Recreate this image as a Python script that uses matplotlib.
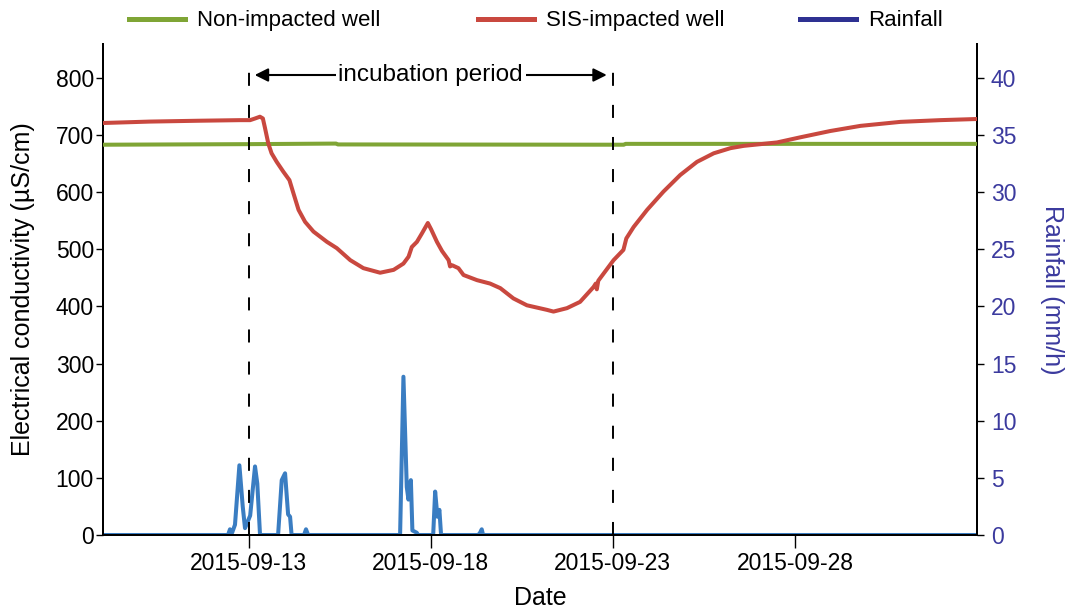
import numpy as np
import matplotlib
matplotlib.use("Agg")
import matplotlib.pyplot as plt
import matplotlib.dates as mdates
from matplotlib.lines import Line2D

plt.rcParams['font.family'] = ['Liberation Sans', 'DejaVu Sans']

# ---- data -------------------------------------------------------------
START = np.datetime64('2015-09-09T00:00')

# SIS-impacted well conductivity: (days since start, µS/cm)
sis_days = [0.00, 1.29, 2.66, 3.76, 4.04, 4.18, 4.31, 4.39, 4.45, 4.54,
            4.63, 4.77, 4.95, 5.12, 5.23, 5.37, 5.55, 5.78, 6.15, 6.42,
            6.79, 7.15, 7.61, 7.98, 8.25, 8.39, 8.48, 8.62, 8.76, 8.92,
            9.01, 9.17, 9.31, 9.49, 9.53, 9.59, 9.76, 9.90, 10.27, 10.63,
            10.91, 11.27, 11.64, 12.19, 12.37, 12.74, 13.10, 13.47, 13.53, 13.56,
            13.60, 14.02, 14.29, 14.37, 14.57, 14.94, 15.39, 15.85, 16.31, 16.77,
            17.23, 17.59, 18.05, 18.51, 19.15, 19.97, 20.80, 21.90, 22.99, 24.00]
sis_ec = [721, 723.5, 725, 726, 726, 729, 732, 729, 712, 685,
          668, 653, 636, 621, 598, 569, 548, 531, 513, 502,
          481, 467, 459, 464, 475, 487, 504, 513, 528, 546,
          535, 513, 497, 481, 470, 472, 467, 455, 446, 440,
          432, 414, 402, 394, 391, 397, 408, 434, 440, 430,
          445, 481, 499, 519, 539, 569, 601, 630, 653, 668,
          677, 681, 684, 687, 696, 707, 716, 723, 726, 728]

# Non-impacted well conductivity: (days since start, µS/cm)
non_days = [0.0, 4.0, 6.40, 6.45, 14.30, 14.35, 24.0]
non_ec = [683, 684, 685, 683.5, 683, 684.5, 684.5]

# Rainfall intensity: (hours since start, mm/h)
rain_hours = [0.0, 82.4, 83.7, 85.1, 87.0, 89.9, 92.1, 93.6, 97.0, 100.2,
              101.7, 103.5, 115.4, 117.8, 120.0, 122.0, 123.3, 124.3,
              132.5, 133.8, 135.2, 195.8, 198.0, 200.2, 201.3, 202.9,
              203.9, 206.8, 207.6, 217.6, 218.9, 220.4, 221.7, 222.8,
              247.3, 248.5, 249.6, 250.5, 576.0]
rain_mm = [0.0, 0.0, 0.5, 0.2, 0.9, 6.1, 2.5, 0.6, 1.7, 6.0,
           4.5, 0.0, 0.0, 4.8, 5.4, 1.8, 1.6, 0.0,
           0.0, 0.5, 0.0, 0.0, 13.85, 4.2, 3.1, 4.8,
           0.4, 0.2, 0.0, 0.0, 3.8, 1.6, 2.2, 0.0,
           0.0, 0.2, 0.5, 0.0, 0.0]

series_names = ['Non-impacted well', 'SIS-impacted well', 'Rainfall']
incubation = ['2015-09-13', '2015-09-23']
tick_dates = ['2015-09-13', '2015-09-18', '2015-09-23', '2015-09-28']
x_range = ['2015-09-09', '2015-10-03']


def to_time(offsets, unit_minutes):
    return START + np.round(np.asarray(offsets) * unit_minutes).astype('timedelta64[m]')


sis_t = to_time(sis_days, 1440)
non_t = to_time(non_days, 1440)
rain_t = to_time(rain_hours, 60)

GREEN = '#7fa535'
RED = '#c9483f'
RAIN = '#3a7dc2'
RAIN_LEG = '#2e3192'
RAXIS = '#3b3a9e'

# ---- figure -----------------------------------------------------------
fig = plt.figure(figsize=(10.67, 6.12), dpi=100)
ax = fig.add_axes([0.0965, 0.1258, 0.8192, 0.8030])
ax2 = ax.twinx()

ax2.plot(rain_t, rain_mm, color=RAIN, lw=2.9, solid_joinstyle='round', zorder=2)
ax.plot(non_t, non_ec, color=GREEN, lw=2.9, zorder=3)
ax.plot(sis_t, sis_ec, color=RED, lw=2.9, solid_joinstyle='round',
        solid_capstyle='round', zorder=4)

ax.set_zorder(ax2.get_zorder() + 1)
ax.patch.set_visible(False)

for d in incubation:
    ax.plot([np.datetime64(d), np.datetime64(d)], [0, 828], color='black',
            lw=1.4, dashes=(6.7, 9.8), zorder=5)

# incubation arrow and label
t0, t1 = np.datetime64(incubation[0]), np.datetime64(incubation[1])
mid = t0 + (t1 - t0) / 2
ax.annotate('', xy=(t0 + np.timedelta64(4, 'h'), 805),
            xytext=(t1 - np.timedelta64(4, 'h'), 805),
            arrowprops=dict(arrowstyle='<|-|>', color='black', lw=1.5,
                            mutation_scale=20, shrinkA=0, shrinkB=0), zorder=6)
ax.text(mid, 805, 'incubation period', ha='center', va='center', fontsize=17.5,
        bbox=dict(facecolor='white', edgecolor='none', pad=2), zorder=7)

# axes limits and ticks
ax.set_xlim(np.datetime64(x_range[0]), np.datetime64(x_range[1]))
ax.set_ylim(0, 860)
ax2.set_ylim(0, 43)
ax.set_yticks(np.arange(0, 801, 100))
ax2.set_yticks(np.arange(0, 41, 5))
ax.set_xticks([np.datetime64(d) for d in tick_dates])
ax.xaxis.set_major_formatter(mdates.DateFormatter('%Y-%m-%d'))

for a in (ax, ax2):
    a.spines['top'].set_visible(False)
    for s in a.spines.values():
        s.set_linewidth(1.4)
ax.tick_params(axis='x', direction='out', length=9, width=1.0, labelsize=16.5, pad=3)
ax.tick_params(axis='y', direction='out', length=5, width=1.0, labelsize=16.5, pad=1.5)
ax2.tick_params(axis='y', direction='out', length=5, width=1.0, labelsize=16.5,
                pad=5, labelcolor=RAXIS)

ax.set_xlabel('Date', fontsize=18, va='center')
ax.xaxis.set_label_coords(0.5, -0.128)
ax.set_ylabel('Electrical conductivity (µS/cm)', fontsize=18, va='center')
ax.yaxis.set_label_coords(-0.092, 0.5)
ax2.set_ylabel('Rainfall (mm/h)', fontsize=18, color=RAXIS, rotation=270,
               va='center', ha='center')
ax2.yaxis.set_label_coords(1.086, 0.5)

# legend entries placed individually along the top
legend_colors = [GREEN, RED, RAIN_LEG]
legend_x = [0.1209, 0.448, 0.7498]
for name, col, xpos in zip(series_names, legend_colors, legend_x):
    fig.legend([Line2D([], [], color=col, lw=3.6)], [name],
               loc='center left', bbox_to_anchor=(xpos, 0.966), frameon=False,
               fontsize=16, handlelength=2.5, handletextpad=0.56,
               borderpad=0, borderaxespad=0)

fig.savefig('out.png', dpi=100)
